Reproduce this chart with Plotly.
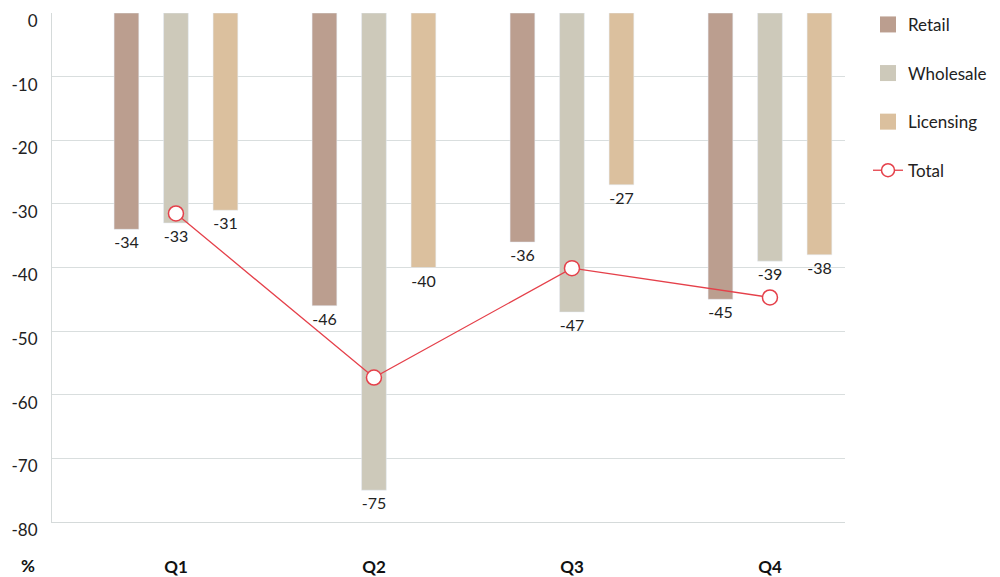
import plotly.graph_objects as go

quarters = ["Q1", "Q2", "Q3", "Q4"]
retail = [-34, -46, -36, -45]
wholesale = [-33, -75, -47, -39]
licensing = [-31, -40, -27, -38]
total = [-31.5, -57.3, -40.1, -44.7]
y_ticks = [0, -10, -20, -30, -40, -50, -60, -70, -80]

colors = {"Retail": "#bb9e8f", "Wholesale": "#cdc9ba", "Licensing": "#dbc09e"}
red = "#e5404a"
font = "Lato"
x_idx = list(range(len(quarters)))

fig = go.Figure()
for name, vals in [("Retail", retail), ("Wholesale", wholesale), ("Licensing", licensing)]:
    fig.add_trace(go.Bar(
        x=x_idx, y=vals, name=name, marker_color=colors[name],
        text=[str(v) for v in vals], textposition="outside",
        textfont=dict(size=16, color="#222222", family=font),
        cliponaxis=False, showlegend=False,
    ))

fig.add_trace(go.Scatter(
    x=x_idx, y=total, name="Total", mode="lines+markers",
    line=dict(color=red, width=1.3),
    marker=dict(size=15, color="white", line=dict(color=red, width=1.5)),
    showlegend=False, cliponaxis=False,
))

# legend entries
for i, name in enumerate(["Retail", "Wholesale", "Licensing"]):
    fig.add_trace(go.Scatter(
        x=[None], y=[None], name=name, mode="markers",
        marker=dict(symbol="square", size=20, color=colors[name]),
        legendgroup=name, legendrank=i,
    ))
fig.add_trace(go.Scatter(
    x=[None], y=[None], name="Total", mode="lines+markers",
    line=dict(color=red, width=1.3),
    marker=dict(size=13, color="white", line=dict(color=red, width=1.5)),
    legendgroup="Total", legendrank=3,
))

fig.update_layout(
    width=1000, height=577,
    margin=dict(l=52, r=155, t=13, b=55, autoexpand=False),
    paper_bgcolor="white", plot_bgcolor="white",
    barmode="group", bargap=0.25, bargroupgap=0.5,
    font=dict(family=font, color="#222222", size=16),
    legend=dict(
        x=1.029, xanchor="left", y=1.012, yanchor="top",
        font=dict(size=17, color="#222222"),
        tracegroupgap=23.5, itemwidth=30, bgcolor="rgba(0,0,0,0)",
    ),
    xaxis=dict(
        range=[-0.626, 3.379], tickmode="array", tickvals=x_idx, ticktext=quarters,
        tickfont=dict(size=17, color="#111111", family=font, weight="bold"),
        showgrid=False, zeroline=False, showline=True, linecolor="#d5dada", linewidth=1,
        ticks="", ticklabelstandoff=30, automargin=False,
    ),
    yaxis=dict(
        range=[-80, 0], tickvals=y_ticks, ticktext=[str(v) for v in y_ticks],
        tickfont=dict(size=17, color="#222222", family=font),
        showgrid=True, gridcolor="#d9dede", gridwidth=1,
        zeroline=False, showline=True, linecolor="#d5dada", linewidth=1,
        ticks="", ticklabelstandoff=10, ticklabelshift=8, automargin=False,
    ),
    annotations=[dict(
        text="<b>%</b>", xref="paper", yref="paper", x=-0.030, y=-0.086,
        xanchor="center", yanchor="middle", showarrow=False,
        font=dict(size=17, color="#111111", family=font),
    )],
)

fig.write_html("out.html")
